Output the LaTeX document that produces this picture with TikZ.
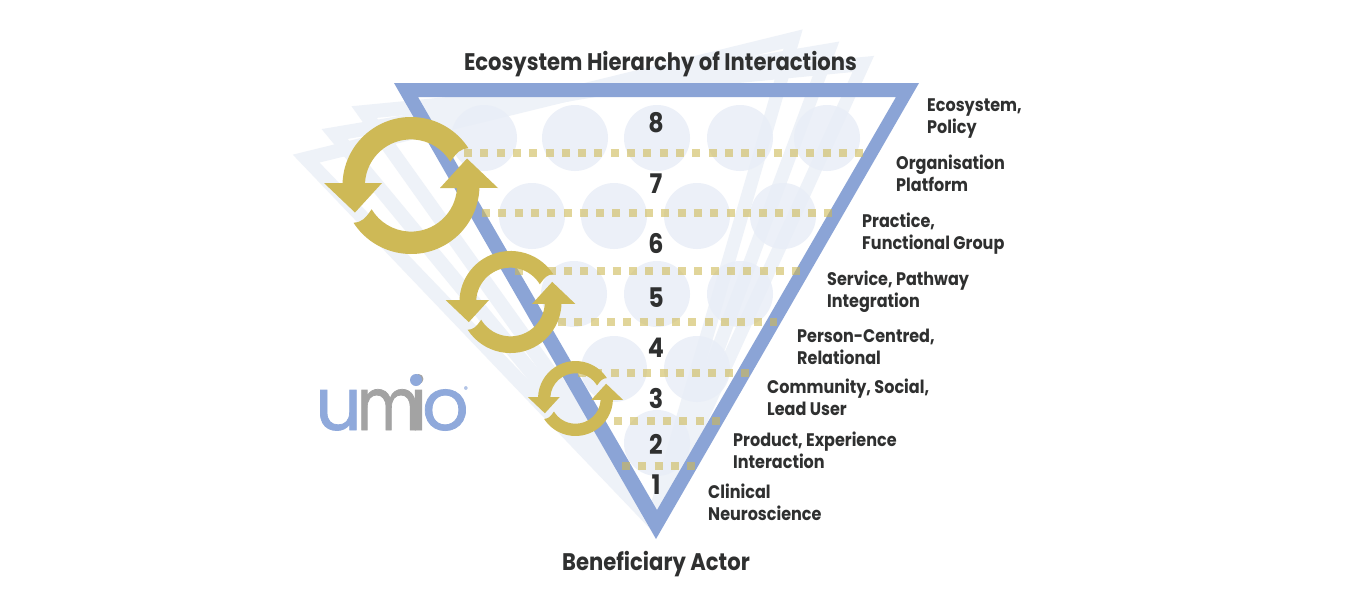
\documentclass[tikz,border=0pt]{standalone}
\usepackage{graphicx}
\usepackage{fontspec}
\setmainfont{Poppins}
\newfontfamily\labfont[FakeStretch=0.88]{Poppins}
\newfontfamily\logofont[FakeBold=1]{Poppins}
\definecolor{triblue}{HTML}{8BA4D6}
\definecolor{ghost}{HTML}{EEF2F8}
\definecolor{gold}{HTML}{CEB956}
\definecolor{ink}{HTML}{2F3030}
\definecolor{logogray}{HTML}{A3A3A3}
\definecolor{logoblue}{HTML}{8FA9DB}
\definecolor{discblue}{HTML}{E9EEF7}
\tikzset{
  disc/.style={fill=discblue,fill opacity=.85},
  dots/.style={draw=gold,draw opacity=.6,line width=8pt,dash pattern=on 8pt off 8.3pt},
  numlab/.style={font=\labfont\bfseries\fontsize{27}{27}\selectfont,text=ink,inner sep=0pt},
  lab/.style={font=\labfont\bfseries\fontsize{18.2}{22}\selectfont,text=ink,inner sep=0pt,align=left,anchor=west},
  head/.style={font=\labfont\bfseries\fontsize{24}{26}\selectfont,text=ink,inner sep=0pt,anchor=base},
}
\newcommand{\halfcycle}{%
  \fill[gold] (33:68.5) arc[start angle=33,end angle=178,radius=68.5]
    -- (-87,2.5) -- (-56,-27) -- (-29,2.5) -- (-46,2.5)
    arc[start angle=177,end angle=31,radius=46]
    .. controls (46,33.5) and (50,37) .. cycle;}
\newcommand{\cyclearrow}[3]{%
  \begin{scope}[shift={(#1,#2)},x=#3pt,y=#3pt]
    \halfcycle
    \begin{scope}[rotate=180]\halfcycle\end{scope}
  \end{scope}}
\begin{document}
\begin{tikzpicture}[x=1pt,y=-1pt]
\useasboundingbox (0,0) rectangle (1350,600);
\fill[white] (0,0) rectangle (1350,600);
% ghost triangles
\foreach \a in {13.8,9.6,5.5}{
  \begin{scope}[shift={(656,535)},rotate=\a]
    \fill[ghost,even odd rule] (-262,-456)--(263,-456)--(0,0)--cycle (-238,-442)--(240,-442)--(1,-29)--cycle;
  \end{scope}}
% discs
\foreach \x/\y in {484/138,575/138,657/138,740/138,827/138,
                   532/216,614/216,697/216,783/216,
                   574/294,657/294,740/294,
                   614/369,697/369,
                   657/443}
  \fill[disc] (\x,\y) circle[radius=33];
% main triangle
\fill[triblue,even odd rule] (394,83)--(919,83)--(656,539)--cycle (418,97)--(896,97)--(657,510)--cycle;
% numbers
\foreach \n/\y in {8/123,7/184,6/243,5/298,4/348,3/398,2/444,1/485}
  \node[numlab] (n\n) at (656,\y) {\n};
% cycle arrows
\cyclearrow{411}{185.5}{1}
\cyclearrow{510.5}{302}{0.745}
\cyclearrow{575.5}{398.5}{0.547}
% dotted levels
\foreach \xa/\xb/\y in {464/868/153,482/836/213,515/804/271,558/777/321.5,578/750/372.5,614/724/421,622/696/466}
  \draw[dots] (\xa,\y) -- (\xb,\y);
% labels
\node[head] (title) at (660.5,70) {Ecosystem Hierarchy of Interactions};
\node[head] (bottom) at (656,570) {Beneficiary Actor};
\node[lab] (l8) at (927,117.6) {\strut Ecosystem,\\\strut Policy};
\node[lab] (l7) at (896,175.6) {\strut Organisation\\\strut Platform};
\node[lab] (l6) at (862,233.6) {\strut Practice,\\\strut Functional Group};
\node[lab] (l5) at (827,291.6) {\strut Service, Pathway\\\strut Integration};
\node[lab] (l4) at (797,348.6) {\strut Person-Centred,\\\strut Relational};
\node[lab] (l3) at (767,399.6) {\strut Community, Social,\\\strut Lead User};
\node[lab] (l2) at (733,452.6) {\strut Product, Experience\\\strut Interaction};
\node[lab] (l1) at (708,504.6) {\strut Clinical\\\strut Neuroscience};
% logo
\node[inner sep=0pt,anchor=base west,font=\logofont\fontsize{73}{73}\selectfont] (logo) at (315,430)
  {\textcolor{logoblue}{u}\kern-5pt\textcolor{logogray}{\scalebox{.84}[1]{m}}\kern-10.5pt\textcolor{logogray}{i}\kern-5.5pt\textcolor{logoblue}{o}\kern-5pt\raisebox{38pt}{\textcolor{logoblue!70}{\fontsize{8}{8}\selectfont ®}}};
\fill[logoblue] (416,380) circle[radius=6];
\end{tikzpicture}
\end{document}
